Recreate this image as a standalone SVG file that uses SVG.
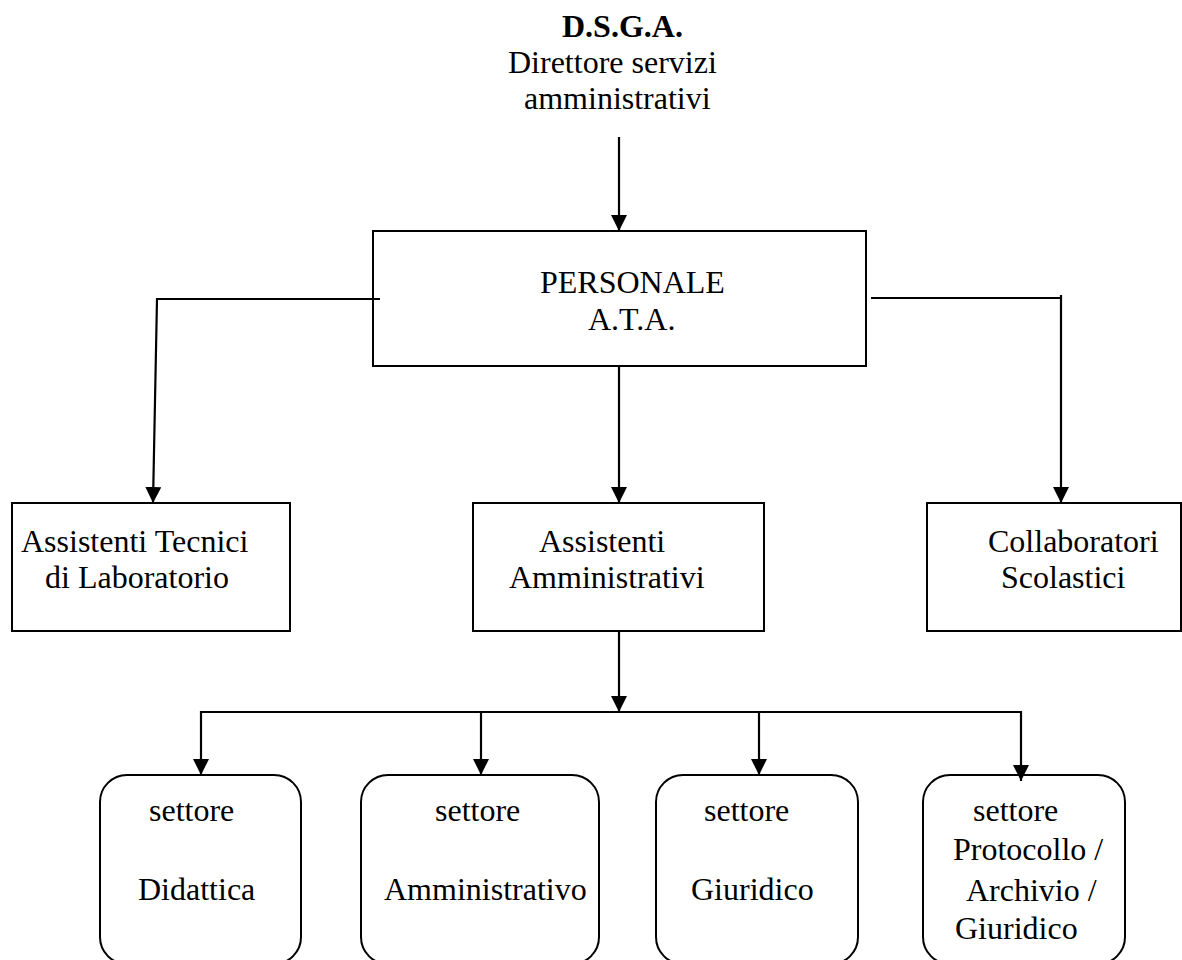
<svg xmlns="http://www.w3.org/2000/svg" width="1182" height="960" viewBox="0 0 1182 960">
<style>
  text { font-family: "Liberation Serif", "Times New Roman", serif; font-size: 32px; fill: #000; }
  .b { font-weight: bold; }
  .box { fill: #fff; stroke: #000; stroke-width: 2; }
  .con { fill: none; stroke: #000; stroke-width: 2.2; }
</style>
<defs>
  <marker id="arr" markerUnits="userSpaceOnUse" markerWidth="16" markerHeight="16" viewBox="0 0 16 16" refX="16" refY="8" orient="auto">
    <path d="M0,0 L16,8 L0,16 Z" fill="#000"/>
  </marker>
</defs>
<rect width="1182" height="960" fill="#fff"/>

<g id="dsga">
  <text class="b" x="562" y="37">D.S.G.A.</text>
  <text x="508" y="73">Direttore servizi</text>
  <text x="524" y="109">amministrativi</text>
</g>

<g id="personale">
  <rect class="box" x="373" y="231" width="493" height="135"/>
  <text x="540" y="293">PERSONALE</text>
  <text x="588" y="330">A.T.A.</text>
</g>

<g id="tecnici">
  <rect class="box" x="12" y="503" width="278" height="128"/>
  <text x="21" y="552">Assistenti Tecnici</text>
  <text x="45" y="588">di Laboratorio</text>
</g>

<g id="amministrativi">
  <rect class="box" x="473" y="503" width="291" height="128"/>
  <text x="539" y="552">Assistenti</text>
  <text x="509" y="588">Amministrativi</text>
</g>

<g id="collaboratori">
  <rect class="box" x="927" y="503" width="254" height="128"/>
  <text x="988" y="552">Collaboratori</text>
  <text x="1001" y="588">Scolastici</text>
</g>

<g id="didattica">
  <rect class="box" x="100" y="775" width="201" height="189" rx="27" ry="27"/>
  <text x="149" y="821">settore</text>
  <text x="138" y="900">Didattica</text>
</g>

<g id="settore-amm">
  <rect class="box" x="361" y="775" width="238" height="189" rx="27" ry="27"/>
  <text x="435" y="821">settore</text>
  <text x="384" y="900">Amministrativo</text>
</g>

<g id="giuridico">
  <rect class="box" x="656" y="775" width="202" height="189" rx="27" ry="27"/>
  <text x="704" y="821">settore</text>
  <text x="691" y="900">Giuridico</text>
</g>

<g id="protocollo">
  <rect class="box" x="923" y="775" width="202" height="189" rx="27" ry="27"/>
  <text x="973" y="821">settore</text>
  <text x="953" y="860">Protocollo /</text>
  <text x="966" y="901">Archivio /</text>
  <text x="955" y="939">Giuridico</text>
</g>

<g id="connectors">
  <line class="con" x1="619" y1="137" x2="619" y2="231" marker-end="url(#arr)"/>
  <line class="con" x1="619" y1="366" x2="619" y2="503" marker-end="url(#arr)"/>
  <polyline class="con" points="380,299 157,299 153,503" marker-end="url(#arr)"/>
  <line class="con" x1="871" y1="298" x2="1062" y2="298"/>
  <line class="con" x1="1061" y1="295" x2="1061" y2="503" marker-end="url(#arr)"/>
  <line class="con" x1="619" y1="631" x2="619" y2="712" marker-end="url(#arr)"/>
  <line class="con" x1="200" y1="712" x2="1022" y2="712"/>
  <line class="con" x1="201" y1="711" x2="201" y2="775" marker-end="url(#arr)"/>
  <line class="con" x1="481" y1="711" x2="481" y2="775" marker-end="url(#arr)"/>
  <line class="con" x1="759" y1="711" x2="759" y2="775" marker-end="url(#arr)"/>
  <line class="con" x1="1021" y1="711" x2="1021" y2="781" marker-end="url(#arr)"/>
</g>
</svg>
